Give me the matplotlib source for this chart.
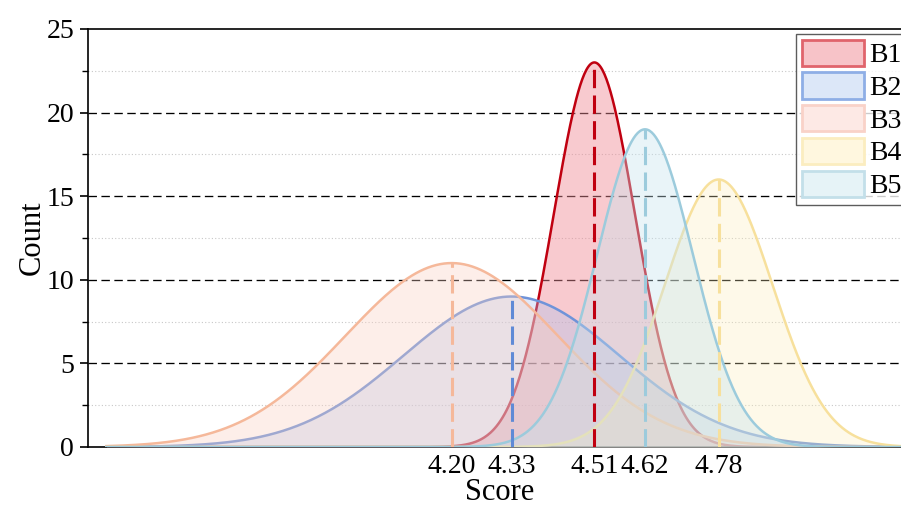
import numpy as np
import matplotlib
matplotlib.use("Agg")
import matplotlib.pyplot as plt
from matplotlib.patches import Patch
from matplotlib.ticker import MultipleLocator

# ---- data ----
labels = ["B1", "B2", "B3", "B4", "B5"]
means = [4.51, 4.33, 4.20, 4.78, 4.62]      # peak positions (score)
peaks = [23.0, 9.0, 11.0, 16.0, 19.0]        # peak heights (count)
sigmas = [0.088, 0.235, 0.23, 0.117, 0.104]  # fitted spreads
tick_labels = ["4.20", "4.33", "4.51", "4.62", "4.78"]
tick_values = [4.20, 4.33, 4.51, 4.62, 4.78]

line_colors = ["#c00010", "#6f93d9", "#f5b89a", "#f7e09c", "#9ccbdc"]
vline_colors = ["#c00010", "#5f8ad6", "#f5b89a", "#f7e09c", "#9ccbdc"]
fill_colors = ["#f08a95", "#a9c1ee", "#fbd0c2", "#fdeeb8", "#c6e3ee"]
fill_alphas = [0.45, 0.35, 0.35, 0.3, 0.38]
leg_face = ["#f7c3c8", "#dce7f8", "#fde9e5", "#fff7df", "#e6f3f7"]
leg_edge = ["#e0646c", "#8eaee6", "#f9d2c8", "#fbedc0", "#c3dfe9"]

plt.rcParams["font.family"] = ["Liberation Serif", "DejaVu Serif"]

fig = plt.figure(figsize=(9.01, 5.05), dpi=100)
# axes extends a little past the right edge of the figure (cropped like the reference)
L, R, T, B = 88, 912, 29, 447
ax = fig.add_axes([L / 901, 1 - B / 505, (R - L) / 901, (B - T) / 505])

xmin, xmax = 3.41, 5.2
ax.set_xlim(xmin, xmax)
ax.set_ylim(0, 25)

x = np.linspace(3.45, 5.2, 800)
for i in range(len(labels)):
    y = peaks[i] * np.exp(-0.5 * ((x - means[i]) / sigmas[i]) ** 2)
    ax.fill_between(x, 0, y, color=fill_colors[i], alpha=fill_alphas[i], lw=0, zorder=2 + i)
    ax.plot(x, y, color=line_colors[i], lw=1.8, zorder=2 + i)

for i in range(len(labels)):
    ax.plot([means[i], means[i]], [0, peaks[i]], color=vline_colors[i], lw=2.2,
            dashes=(6, 2.4), zorder=10)

# grid
ax.yaxis.set_major_locator(MultipleLocator(5))
ax.yaxis.set_minor_locator(MultipleLocator(2.5))
for v in [5, 10, 15, 20]:
    ax.axhline(v, color="black", lw=0.95, dashes=(6.4, 3.4), zorder=1)
for v in [2.5, 7.5, 12.5, 17.5, 22.5]:
    ax.axhline(v, color="#c8c8c8", lw=0.8, ls=(0, (1, 2)), zorder=1)

ax.set_xticks(tick_values)
ax.set_xticklabels(tick_labels)
ax.tick_params(axis="x", length=0, labelsize=20, pad=5)
ax.tick_params(axis="y", which="major", length=6, width=1.2, direction="out", labelsize=20, pad=4)
ax.tick_params(axis="y", which="minor", length=4, width=1.0, direction="out")
for s in ax.spines.values():
    s.set_linewidth(1.2)

ax.set_xlabel("Score", fontsize=22, labelpad=-1)
ax.set_ylabel("Count", fontsize=22, labelpad=0)

handles = [Patch(facecolor=leg_face[i], edgecolor=leg_edge[i], lw=2.0) for i in range(len(labels))]
leg = ax.legend(handles, labels, loc="upper left",
                bbox_to_anchor=((796 - L) / (R - L), (B - 34) / (B - T)),
                bbox_transform=ax.transAxes, fontsize=20, frameon=True, fancybox=False,
                borderaxespad=0, borderpad=0.2, handlelength=2.25, handleheight=1.08,
                labelspacing=0.15, handletextpad=0.2)
leg.get_frame().set_edgecolor("#333333")
leg.get_frame().set_linewidth(1.0)
leg.set_zorder(20)

fig.savefig("out.png", dpi=100)
